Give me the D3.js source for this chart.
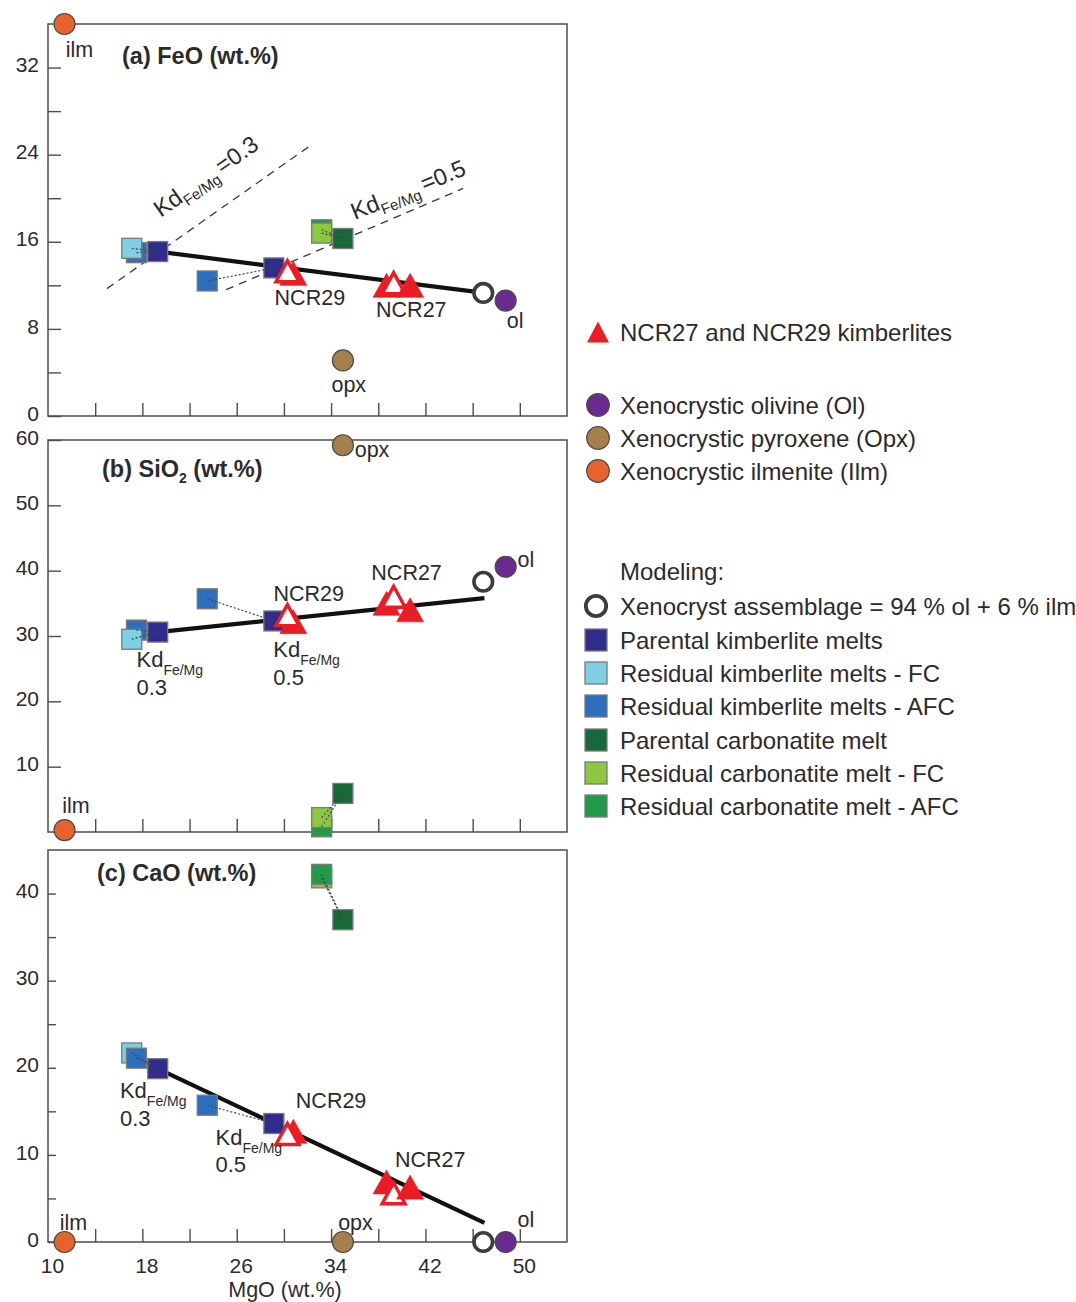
<!DOCTYPE html>
<html><head><meta charset="utf-8">
<script src="https://cdn.jsdelivr.net/npm/d3@7"></script>
<style>
body{margin:0;background:#fff;}
svg{display:block;font-family:"Liberation Sans",Arial,Helvetica,sans-serif;}
</style></head><body>
<svg id="chart" width="1076" height="1302"></svg>
<script>
// ---------------- DATA ----------------
// xenocrystic minerals
const mineralNames = ["ol", "opx", "ilm"];
const mineralMgO  = [48.8, 35.0, 11.4];
const mineralFeO  = [10.6, 5.1, 36.0];
const mineralSiO2 = [40.6, 59.2, 0.3];
const mineralCaO  = [0.0, 0.0, 0.0];

// xenocryst assemblage (94 % ol + 6 % ilm)
const assemblageMgO = [46.9];
const assemblageFeO = [11.3];
const assemblageSiO2 = [38.3];
const assemblageCaO = [0.0];

// modelled melts
const modelNames = ["Parental kimberlite melt Kd0.3", "Parental kimberlite melt Kd0.5",
  "Residual kimberlite melt FC Kd0.3", "Residual kimberlite melt AFC Kd0.3", "Residual kimberlite melt AFC Kd0.5",
  "Parental carbonatite melt", "Residual carbonatite melt FC", "Residual carbonatite melt AFC"];
const modelMgO  = [19.3, 29.15, 17.1, 17.5, 23.5, 35.0, 33.2, 33.2];
const modelFeO  = [15.1, 13.6, 15.4, 15.0, 12.4, 16.3, 16.8, 17.1];
const modelSiO2 = [30.6, 32.3, 29.5, 30.9, 35.7, 5.9, 2.2, 0.8];
const modelCaO  = [19.9, 13.6, 21.7, 21.1, 15.7, 37.0, 41.8, 42.2];
const modelSeries = [1, 1, 2, 3, 3, 4, 5, 6];          // legend row of each model point
const modelLinks = [[2, 0], [3, 0], [4, 1], [6, 5], [7, 5]]; // residual -> parental
const orderFeO  = [3, 2, 0, 4, 1, 7, 6, 5];
const orderSiO2 = [3, 2, 0, 4, 1, 7, 6, 5];
const orderCaO  = [2, 3, 0, 4, 1, 6, 7, 5];

// kimberlite samples (open = second symbol set)
const sampleNames = ["NCR29", "NCR27", "NCR29", "NCR27", "NCR27"];
const sampleOpen  = [false, false, true, true, false];
const sampleMgO   = [30.8, 38.7, 30.3, 39.3, 40.7];
const sampleFeO   = [13.1, 12.0, 13.3, 12.2, 12.0];
const sampleSiO2  = [32.2, 35.0, 33.2, 36.0, 34.0];
const sampleCaO   = [12.7, 6.9, 12.4, 5.6, 6.3];

// mixing line parental melt -> xenocryst assemblage
const mixMgO  = [19.3, 47.0];
const mixFeO  = [15.1, 11.3];
const mixSiO2 = [30.6, 35.8];
const mixCaO  = [19.9, 2.2];

// Kd Fe/Mg lines (FeO panel)
const kd03MgO = [15.0, 32.2];
const kd03FeO = [11.7, 24.8];
const kd05MgO = [25.1, 45.2];
const kd05FeO = [11.6, 20.9];

// ticks
const mgoTicks = [14, 18, 22, 26, 30, 34, 38, 42, 46, 50];
const mgoTickLabels = [10, 18, 26, 34, 42, 50];
const feoTicks = [0, 4, 8, 12, 16, 20, 24, 28, 32];
const feoTickLabels = [0, 8, 16, 24, 32];
const sio2Ticks = [10, 20, 30, 40, 50, 60];
const sio2TickLabels = [10, 20, 30, 40, 50, 60];
const caoTicks = [0, 5, 10, 15, 20, 25, 30, 35, 40];
const caoTickLabels = [0, 10, 20, 30, 40];

// legend
const legendSeries = ["Xenocryst assemblage = 94 % ol + 6 % ilm", "Parental kimberlite melts",
  "Residual kimberlite melts - FC", "Residual kimberlite melts - AFC", "Parental carbonatite melt",
  "Residual carbonatite melt - FC", "Residual carbonatite melt - AFC"];
const seriesColors = ["#ffffff", "#302c8c", "#7fd0e2", "#2d6fbf", "#17693a", "#8dc63f", "#1f9b4a"];
const mineralLegend = ["Xenocrystic olivine (Ol)", "Xenocrystic pyroxene (Opx)", "Xenocrystic ilmenite (Ilm)"];
const mineralColors = ["#6a2b90", "#a6804c", "#e8622b"];
const sampleLegend = "NCR27 and NCR29 kimberlites";

// ---------------- DRAWING ----------------
const svg = d3.select("#chart");
const TXT = "#2b2b2b", AX = "#4d4d4d", RED = "#ec1c24";
const x = d3.scaleLinear().domain([10, 54]).range([48, 567]);
const triPath = (w, h) => `M0,${-h / 2}L${w / 2},${h / 2}L${-w / 2},${h / 2}Z`;

const panels = [
  { key: "FeO", domain: [0, 36], range: [416, 24], ticks: feoTicks, tickLabels: feoTickLabels, tickLen: 13,
    mineral: mineralFeO, assem: assemblageFeO, model: modelFeO, sample: sampleFeO, mix: mixFeO, order: orderFeO,
    title: { dx: 74, dy: 40 } },
  { key: "SiO2", domain: [0, 60], range: [832, 440], ticks: sio2Ticks, tickLabels: sio2TickLabels, tickLen: 13,
    mineral: mineralSiO2, assem: assemblageSiO2, model: modelSiO2, sample: sampleSiO2, mix: mixSiO2, order: orderSiO2,
    title: { dx: 54, dy: 37 } },
  { key: "CaO", domain: [0, 45], range: [1242, 850], ticks: caoTicks, tickLabels: caoTickLabels, tickLen: 8,
    mineral: mineralCaO, assem: assemblageCaO, model: modelCaO, sample: sampleCaO, mix: mixCaO, order: orderCaO,
    title: { dx: 49, dy: 31 } }
];

// point label annotations, in data coordinates: [text, MgO, value, anchor]
const pointLabels = {
  FeO: [["ilm", 11.5, 33.0, "start"], ["opx", 35.5, 2.2, "middle"], ["ol", 48.9, 8.1, "start"],
        ["NCR29", 32.2, 10.2, "middle"], ["NCR27", 40.8, 9.1, "middle"]],
  SiO2: [["opx", 36.0, 57.4, "start"], ["ilm", 11.2, 2.9, "start"], ["ol", 49.8, 40.6, "start"],
         ["NCR29", 32.1, 35.3, "middle"], ["NCR27", 40.4, 38.6, "middle"]],
  CaO: [["ilm", 11.0, 1.4, "start"], ["opx", 34.6, 1.4, "start"], ["ol", 49.8, 1.7, "start"],
        ["NCR29", 34.0, 15.4, "middle"], ["NCR27", 42.4, 8.6, "middle"]]
};
// Kd stacked labels: [value, MgO, oxide(Kd line), oxide(value line)]
const kdLabels = {
  SiO2: [["0.3", 17.5, 25.3, 21.0], ["0.5", 29.1, 26.8, 22.5]],
  CaO: [["0.3", 16.1, 16.5, 13.3], ["0.5", 24.2, 11.1, 8.0]]
};

panels.forEach((p, pi) => {
  const y = d3.scaleLinear().domain(p.domain).range(p.range);
  const g = svg.append("g").attr("class", "panel-" + p.key);
  const top = p.range[1], bot = p.range[0];

  // frame
  g.append("rect").attr("x", x.range()[0]).attr("y", top)
    .attr("width", x.range()[1] - x.range()[0]).attr("height", bot - top)
    .attr("fill", "none").attr("stroke", AX).attr("stroke-width", 1.5);

  // y axis (ticks inside)
  const yAxis = d3.axisLeft(y).tickValues(p.ticks).tickSizeInner(-p.tickLen).tickSizeOuter(0).tickPadding(9)
    .tickFormat(d => p.tickLabels.includes(d) ? d : "");
  const ya = g.append("g").attr("transform", `translate(${x.range()[0]},0)`).call(yAxis);
  ya.select(".domain").remove();
  ya.selectAll("line").attr("stroke", AX).attr("stroke-width", 1.4);
  ya.selectAll("text").attr("fill", TXT).attr("font-size", 21).attr("dy", "0.2em")
    .style("font-family", "'Liberation Sans',Arial,sans-serif");

  // x axis ticks (inside)
  const xAxis = d3.axisBottom(x).tickValues(mgoTicks).tickSizeInner(-13).tickSizeOuter(0).tickFormat("");
  const xa = g.append("g").attr("transform", `translate(0,${bot})`).call(xAxis);
  xa.select(".domain").remove();
  xa.selectAll("line").attr("stroke", AX).attr("stroke-width", 1.4);

  if (pi === 2) {
    const xl = g.append("g").attr("transform", `translate(0,${bot})`)
      .call(d3.axisBottom(x).tickValues(mgoTickLabels).tickSize(0).tickPadding(16));
    xl.select(".domain").remove();
    xl.selectAll("text").attr("fill", TXT).attr("font-size", 21).attr("dx", 4)
      .style("font-family", "'Liberation Sans',Arial,sans-serif");
    g.append("text").attr("x", 285).attr("y", 1297).attr("text-anchor", "middle")
      .attr("font-size", 21.5).attr("fill", TXT).text("MgO (wt.%)");
  }

  // title
  const t = g.append("text").attr("x", x.range()[0] + p.title.dx).attr("y", top + p.title.dy)
    .attr("font-size", 23.5).attr("font-weight", "bold").attr("fill", TXT);
  if (p.key === "SiO2") {
    t.append("tspan").text("(b) SiO");
    t.append("tspan").attr("font-size", 14).attr("dy", 6).text("2");
    t.append("tspan").attr("dy", -6).text(" (wt.%)");
  } else if (p.key === "FeO") {
    t.text("(a) FeO (wt.%)");
  } else {
    t.text("(c) CaO (wt.%)");
  }

  // Kd dashed lines (FeO only)
  if (p.key === "FeO") {
    [[kd03MgO, kd03FeO], [kd05MgO, kd05FeO]].forEach(([mx, my]) => {
      g.append("path").attr("d", d3.line()(mx.map((v, i) => [x(v), y(my[i])])))
        .attr("stroke", "#3a3a3a").attr("stroke-width", 1.3).attr("stroke-dasharray", "8,6").attr("fill", "none");
    });
    const kdl = [["0.3", 19.55, 18.2, -35], ["0.5", 36.0, 18.0, -22]];
    kdl.forEach(([v, mx, my, ang]) => {
      const tx = g.append("text").attr("transform", `translate(${x(mx)},${y(my)}) rotate(${ang})`)
        .attr("font-size", 23.5).attr("fill", TXT);
      tx.append("tspan").text("Kd");
      tx.append("tspan").attr("font-size", 15).attr("dy", 6).text("Fe/Mg");
      tx.append("tspan").attr("dy", -6).attr("dx", 4).text("=" + v);
    });
  }

  // mixing line
  g.append("path").attr("d", d3.line()(mixMgO.map((v, i) => [x(v), y(p.mix[i])])))
    .attr("stroke", "#111").attr("stroke-width", 4.2).attr("fill", "none");

  // model squares
  const S = 20;
  g.selectAll("rect.model").data(p.order).enter().append("rect").attr("class", "model")
    .attr("x", i => x(modelMgO[i]) - S / 2).attr("y", i => y(p.model[i]) - S / 2)
    .attr("width", S).attr("height", S)
    .attr("fill", i => seriesColors[modelSeries[i]]).attr("stroke", "#7a7a7a").attr("stroke-width", 1.3);

  // dotted links
  g.selectAll("line.link").data(modelLinks).enter().append("line").attr("class", "link")
    .attr("x1", d => x(modelMgO[d[0]])).attr("y1", d => y(p.model[d[0]]))
    .attr("x2", d => x(modelMgO[d[1]])).attr("y2", d => y(p.model[d[1]]))
    .attr("stroke", "#444").attr("stroke-width", 1.2).attr("stroke-dasharray", "2,2");

  // samples
  sampleMgO.forEach((m, i) => {
    const open = sampleOpen[i];
    g.append("path").attr("d", open ? triPath(23, 21) : triPath(27, 24))
      .attr("transform", `translate(${x(m)},${y(p.sample[i])})`)
      .attr("fill", open ? "#fff" : RED).attr("stroke", RED)
      .attr("stroke-width", open ? 3.4 : 0.6).attr("stroke-linejoin", "miter");
  });

  // assemblage open circle
  g.append("circle").attr("cx", x(assemblageMgO[0])).attr("cy", y(p.assem[0])).attr("r", 9.3)
    .attr("fill", "#fff").attr("stroke", "#3c3c3c").attr("stroke-width", 3.6);

  // minerals
  g.selectAll("circle.min").data(mineralMgO).enter().append("circle").attr("class", "min")
    .attr("cx", d => x(d)).attr("cy", (d, i) => y(p.mineral[i])).attr("r", 10.5)
    .attr("fill", (d, i) => mineralColors[i]).attr("stroke", "#4a4a4a").attr("stroke-width", 1.2);

  // point labels
  pointLabels[p.key].forEach(([txt, mx, my, anc]) => {
    g.append("text").attr("x", x(mx)).attr("y", y(my)).attr("text-anchor", anc)
      .attr("font-size", 21.5).attr("fill", TXT).text(txt);
  });

  // Kd stacked labels
  (kdLabels[p.key] || []).forEach(([v, mx, my1, my2]) => {
    const tx = g.append("text").attr("x", x(mx)).attr("y", y(my1)).attr("font-size", 22).attr("fill", TXT);
    tx.append("tspan").text("Kd");
    tx.append("tspan").attr("font-size", 14).attr("dy", 8).text("Fe/Mg");
    g.append("text").attr("x", x(mx)).attr("y", y(my2)).attr("font-size", 22).attr("fill", TXT).text(v);
  });
});

// ---------------- LEGEND ----------------
const lg = svg.append("g").attr("class", "legend");
const LX = 597, TX = 620, LFS = 24;
const ltext = (yc, s) => lg.append("text").attr("x", TX).attr("y", yc + 8.5).attr("font-size", LFS)
  .attr("fill", TXT).text(s);

lg.append("path").attr("d", triPath(22, 21)).attr("transform", `translate(${LX + 1},332)`).attr("fill", RED);
ltext(332, sampleLegend);

const minY = [405, 438, 471];
mineralLegend.forEach((s, i) => {
  lg.append("circle").attr("cx", LX + 1).attr("cy", minY[i]).attr("r", 11.3)
    .attr("fill", mineralColors[i]).attr("stroke", "#4a4a4a").attr("stroke-width", 1.2);
  ltext(minY[i], s);
});

lg.append("text").attr("x", TX).attr("y", 580).attr("font-size", LFS).attr("fill", TXT).text("Modeling:");

const serY = [606, 640, 673, 706, 740, 773, 806];
legendSeries.forEach((s, i) => {
  if (i === 0) {
    lg.append("circle").attr("cx", LX - 1).attr("cy", serY[i]).attr("r", 10.2)
      .attr("fill", "#fff").attr("stroke", "#3c3c3c").attr("stroke-width", 3.8);
  } else {
    lg.append("rect").attr("x", LX - 1 - 11).attr("y", serY[i] - 11).attr("width", 22).attr("height", 22)
      .attr("fill", seriesColors[i]).attr("stroke", "#7a7a7a").attr("stroke-width", 1.3);
  }
  ltext(serY[i], s);
});
</script>
</body></html>
